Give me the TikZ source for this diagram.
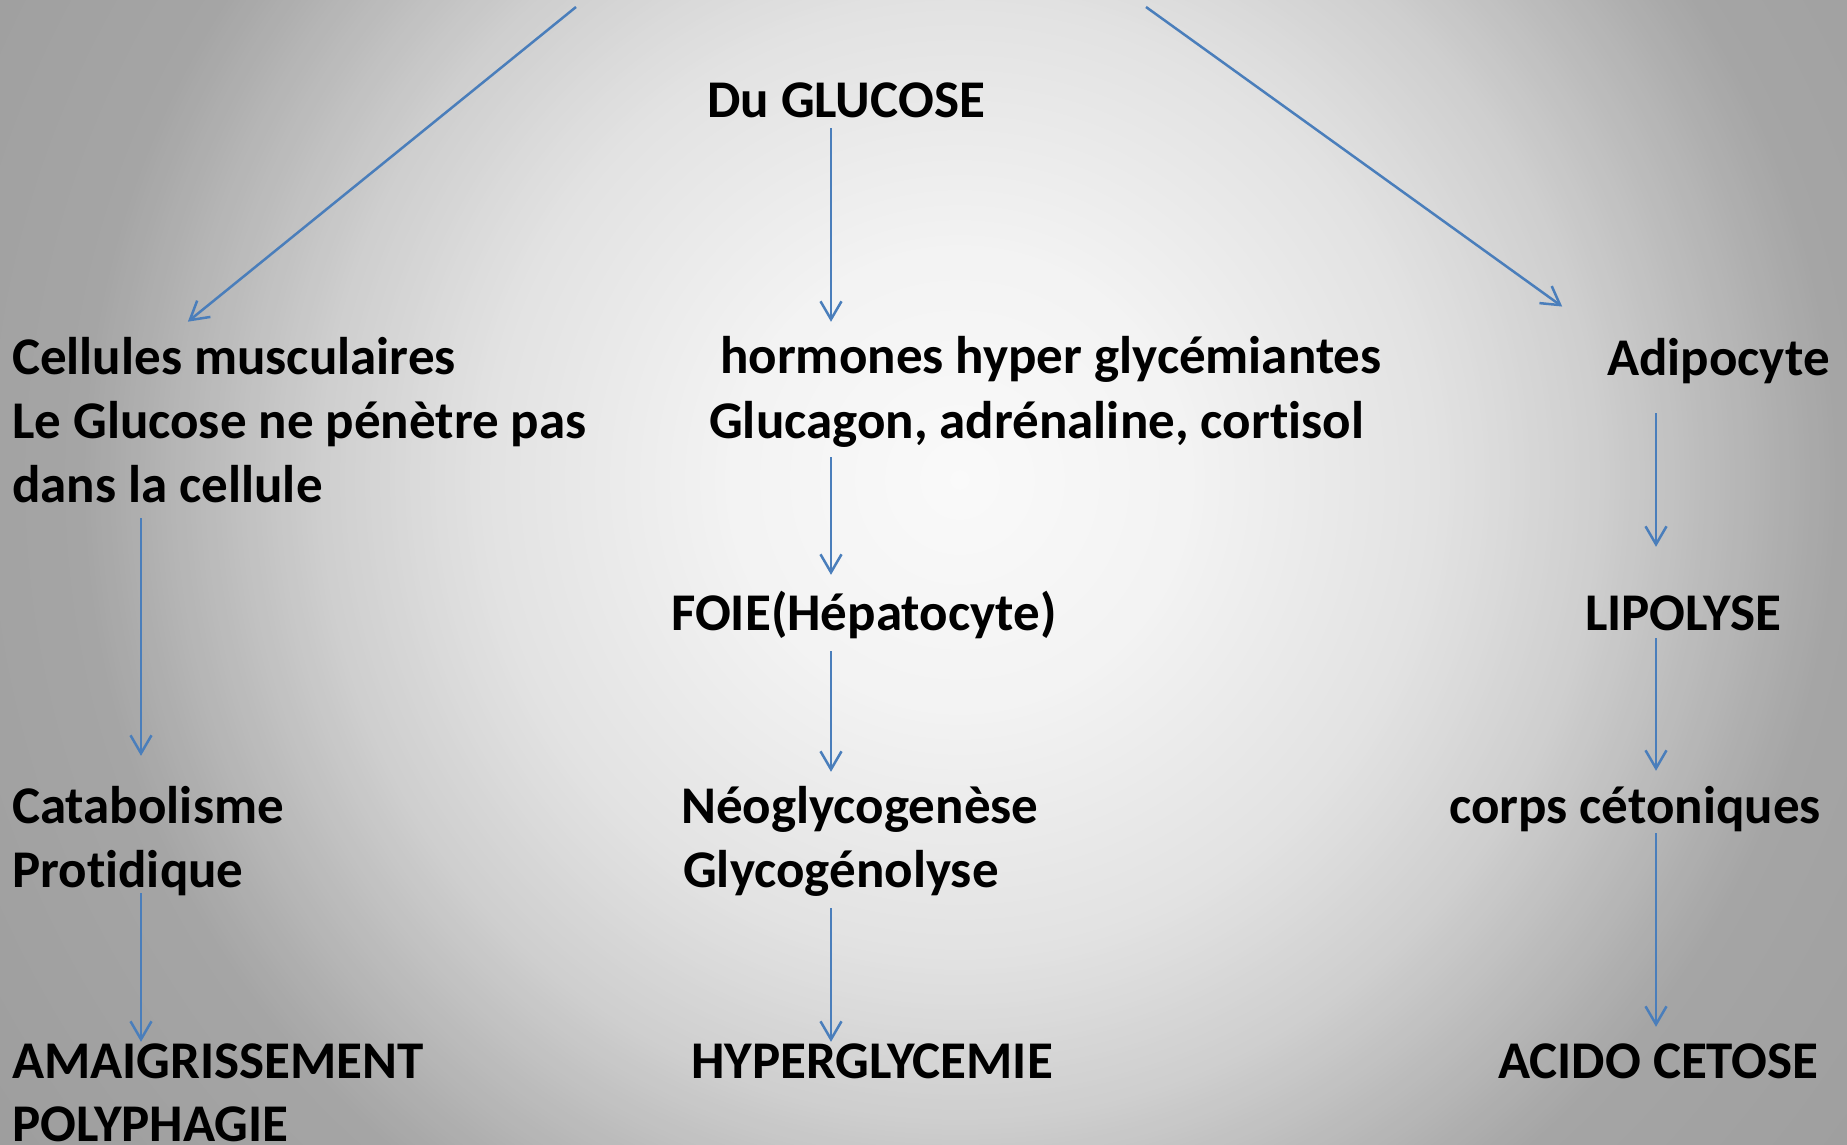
\documentclass[tikz,border=0pt]{standalone}
\usepackage{fontspec}
\setmainfont{Carlito}[Ligatures={NoCommon}]
\usetikzlibrary{arrows.meta}
\definecolor{arrowblue}{HTML}{4A7EBB}
\begin{document}
\begin{tikzpicture}[x=1pt,y=-1pt,
  lbl/.style={anchor=base west, inner sep=0pt, text height=36pt, text depth=10pt,
    font=\fontsize{53}{64}\selectfont\bfseries},
  arr/.style={draw=arrowblue, line width=2.5pt, -{Straight Barb[length=18pt,width=21pt]}}]
\useasboundingbox (0,0) rectangle (1847,1145);
% radial background, drawn as concentric discs
\begin{scope}
\clip (0,0) rectangle (1847,1145);
\fill[white!62!black] (0,0) rectangle (1847,1145);
\foreach \r in {1150,1145,...,5}{
  \pgfmathsetmacro\v{\r<240 ? 98-3*\r/240 : (\r<480 ? 95-6.4*(\r-240)/240 : (\r<640 ? 88.6-7.6*(\r-480)/160 : (\r<880 ? 81-16.3*(\r-640)/240 : 64.7-2.7*(\r-880)/270)))}
  \fill[white!\v!black] (960,480) circle[radius=\r];
}
\end{scope}

% centre column
\node[lbl] (glucose) at (707,118) {Du GLUCOSE};
\node[lbl] (hormones) at (720,373) {hormones hyper glycémiantes};
\node[lbl] (glucagon) at (709,438) {Glucagon, adrénaline, cortisol};
\node[lbl] (foie) at (671,630) {FOIE(Hépatocyte)};
\node[lbl] (neo) at (681,823) {Néoglycogenèse};
\node[lbl] (glyco) at (683,887) {Glycogénolyse};
\node[lbl] (hyper) at (691,1078) {HYPERGLYCEMIE};
% left column
\node[lbl] (cellules) at (12,374) {Cellules musculaires};
\node[lbl] (glucosepas) at (12,438) {Le Glucose ne pénètre pas};
\node[lbl] (dans) at (12,502) {dans la cellule};
\node[lbl] (catab) at (12,823) {Catabolisme};
\node[lbl] (protid) at (12,887) {Protidique};
\node[lbl] (amaig) at (12,1078) {AMAIGRISSEMENT};
\node[lbl] (poly) at (12,1141) {POLYPHAGIE};
% right column
\node[lbl] (adipo) at (1607,375) {Adipocyte};
\node[lbl] (lipo) at (1585,630) {LIPOLYSE};
\node[lbl] (corps) at (1449,823) {corps cétoniques};
\node[lbl] (acido) at (1498,1078) {ACIDO CETOSE};

\coordinate (cL) at (141,0);
\coordinate (cC) at (831,0);
\coordinate (cR) at (1656,0);
\coordinate (dL) at (168,0);
\coordinate (topL) at (576,7);
\coordinate (topR) at (1146,7);

% diagonal arrows
\draw[arr, shorten >=25.6pt] (topL) -- (cellules.north -| dL);
\draw[arr, shorten >=55.2pt] (topR) -- (adipo.north west);
% centre arrows
\draw[arr, shorten >=15pt] (glucose.south -| cC) -- (hormones.north -| cC);
\draw[arr, shorten <=9pt, shorten >=19pt] (glucagon.south -| cC) -- (foie.north -| cC);
\draw[arr, shorten <=11pt, shorten >=15pt] (foie.south -| cC) -- (neo.north -| cC);
\draw[arr, shorten <=11pt] (glyco.south -| cC) -- (hyper.north -| cC);
% left arrows
\draw[arr, shorten <=6pt, shorten >=31pt] (dans.south -| cL) -- (catab.north -| cL);
\draw[arr, shorten <=-4pt] (protid.south -| cL) -- (amaig.north -| cL);
% right arrows
\draw[arr, shorten <=28pt, shorten >=47pt] (adipo.south -| cR) -- (lipo.north -| cR);
\draw[arr, shorten <=-2pt, shorten >=16pt] (lipo.south -| cR) -- (corps.north -| cR);
\draw[arr, shorten >=15pt] (corps.south -| cR) -- (acido.north -| cR);
\end{tikzpicture}
\end{document}
